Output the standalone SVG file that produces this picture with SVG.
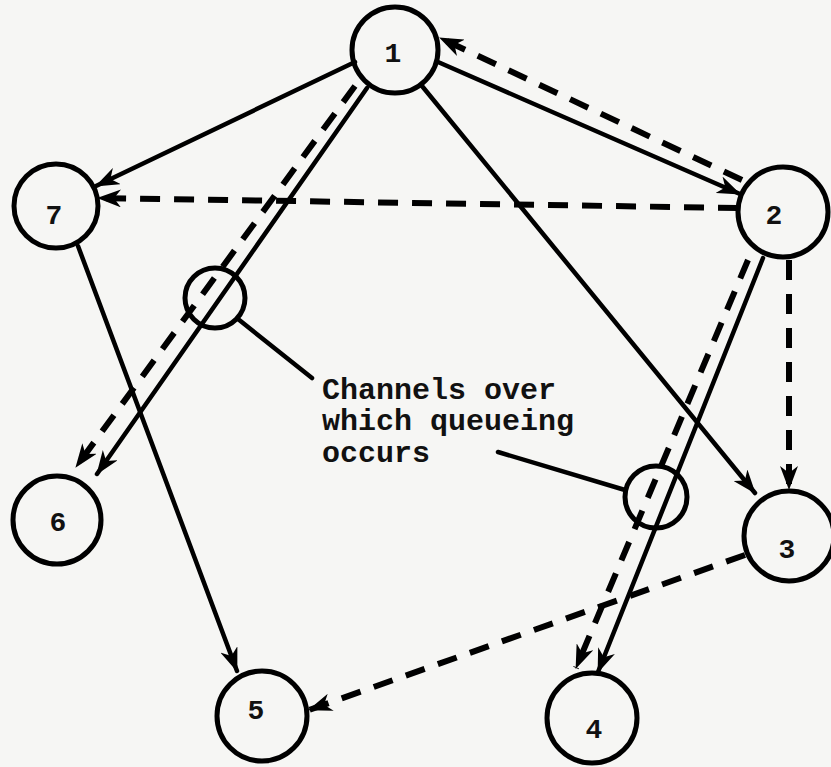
<svg xmlns="http://www.w3.org/2000/svg" width="831" height="767" viewBox="0 0 831 767">
<style>
.node circle{fill:none;stroke:#000;stroke-width:5}
.node text{font-family:"Liberation Mono",monospace;font-weight:bold;font-size:28px;text-anchor:middle;fill:#111}
.s{fill:none;stroke:#000;stroke-width:4.5;stroke-linecap:round}
.d{fill:none;stroke:#000;stroke-width:6;stroke-dasharray:20 14;stroke-linecap:butt}
.a{marker-end:url(#ah)}
.lbl{font-family:"Liberation Mono",monospace;font-weight:bold;font-size:30px;fill:#111}
</style>
<defs>
<marker id="ah" viewBox="0 0 24 18" refX="23" refY="9" markerWidth="24" markerHeight="18" markerUnits="userSpaceOnUse" orient="auto">
<path d="M0,0 L24,9 L0,18 L7,9 Z" fill="#000"/>
</marker>
</defs>
<rect width="831" height="767" fill="#f6f6f4"/>
<g id="connectors">
<line class="s a" x1="355" y1="62" x2="96" y2="186"/>
<line class="d a" x1="738" y1="208" x2="98" y2="198"/>
<line class="s a" x1="438" y1="62" x2="740" y2="194"/>
<line class="d a" x1="742" y1="180" x2="440" y2="38"/>
<line class="s a" x1="422" y1="86" x2="755" y2="493"/>
<line class="s a" x1="367" y1="88" x2="97" y2="474"/>
<line class="d a" x1="355" y1="86" x2="76" y2="467"/>
<line class="s a" x1="78" y1="246" x2="237" y2="671"/>
<line class="d a" x1="745" y1="555" x2="309" y2="710"/>
<line class="d a" x1="789" y1="260" x2="789" y2="489"/>
<line class="s a" x1="763" y1="258" x2="598" y2="672"/>
<line class="d a" x1="748" y1="260" x2="576" y2="668"/>
<line class="s" x1="238" y1="319" x2="312" y2="378"/>
<line class="s" x1="498" y1="452" x2="625" y2="490"/>
</g>
<g id="n1" class="node"><circle cx="395" cy="50" r="43"/><text x="393" y="62">1</text></g>
<g id="n2" class="node"><circle cx="783" cy="212" r="45"/><text x="774" y="224">2</text></g>
<g id="n3" class="node"><circle cx="789" cy="536" r="45"/><text x="787" y="558">3</text></g>
<g id="n4" class="node"><circle cx="592" cy="718" r="45"/><text x="594" y="738">4</text></g>
<g id="n5" class="node"><circle cx="262" cy="716" r="45"/><text x="256" y="719">5</text></g>
<g id="n6" class="node"><circle cx="57" cy="520" r="44"/><text x="58" y="531">6</text></g>
<g id="n7" class="node"><circle cx="56" cy="206" r="42"/><text x="54" y="224">7</text></g>
<g id="chA" class="node"><circle cx="215" cy="298" r="30"/></g>
<g id="chB" class="node"><circle cx="656" cy="497" r="31"/></g>
<g id="label">
<text class="lbl" x="322" y="399">Channels over</text>
<text class="lbl" x="322" y="430">which queueing</text>
<text class="lbl" x="322" y="462">occurs</text>
</g>
</svg>
